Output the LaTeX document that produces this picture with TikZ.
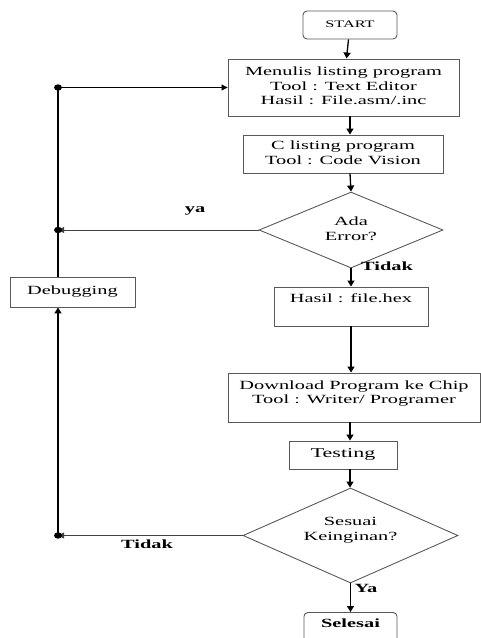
\documentclass[tikz,border=0pt]{standalone}
\usepackage{fontspec}
\setmainfont{Liberation Serif}
\usepackage{graphicx}
\usetikzlibrary{shapes.geometric,arrows.meta}
\newcommand{\wt}[2][12.5]{\scalebox{1.63}[1]{\fontsize{#1}{14.5}\selectfont\begin{tabular}{@{}c@{}}#2\end{tabular}}}
\newcommand{\wb}[2][12.5]{\scalebox{1.63}[1]{\fontsize{#1}{14.5}\selectfont\bfseries\begin{tabular}{@{}c@{}}#2\end{tabular}}}
\begin{document}
\begin{tikzpicture}[x=1pt,y=-1pt,
  box/.style={draw=black!65, line width=0.9pt, inner sep=0pt, fill=white},
  rbox/.style={box, rounded corners=4pt},
  dia/.style={diamond, draw=black!65, line width=0.9pt, inner sep=0pt, aspect=2.3},
  txt/.style={inner sep=0pt},
  arr/.style={line width=1.3pt, -{Triangle[length=6pt,width=7pt]}},
  thinarr/.style={draw=black!75, line width=0.8pt, -{Triangle[length=6pt,width=6pt]}},
  vline/.style={line width=1.4pt}
]
\useasboundingbox (0,0) rectangle (481,638);

% main column
\node[rbox, minimum width=94, minimum height=28] (start) at (350,25) {\wt[10]{START}};
\node[box, minimum width=231, minimum height=57] (menulis) at (343.5,87.5)
  {\wt{Menulis listing program\\Tool : Text Editor\\Hasil : File.asm/.inc}};
\node[box, minimum width=200, minimum height=38] (clist) at (343,154)
  {\wt{C listing program\\Tool : Code Vision}};
\node[dia, minimum width=184, minimum height=76] (ada) at (351,230) {};
\node[txt] (adatxt) at (351,230) {\wt{Ada\\Error?}};
\node[box, minimum width=154, minimum height=39] (hasil) at (351,306.5) {};
\node[txt] (hasiltxt) at (351,300) {\wt{Hasil : file.hex}};
\node[box, minimum width=252, minimum height=49] (download) at (354,397.5) {};
\node[txt] (downloadtxt) at (354,393.5) {\wt{Download Program ke Chip\\Tool : Writer/ Programer}};
\node[box, minimum width=108, minimum height=28] (testing) at (343,455) {\wt[13.5]{Testing}};
\node[dia, minimum width=215, minimum height=95] (sesuai) at (350.5,535.5) {};
\node[txt] (sesuaitxt) at (350.5,530) {\wt{Sesuai\\Keinginan?}};
\node[rbox, minimum width=93, minimum height=30, anchor=north] (selesai) at (350.5,612) {};
\node[txt] (selesaitxt) at (350.5,625) {\wb{Selesai}};

% left side
\node[box, minimum width=125, minimum height=30] (debug) at (72.5,292) {\wt{Debugging}};
\coordinate (j1) at (58,87.5);
\coordinate (j2) at (58,230);
\coordinate (j3) at (58,535.5);

% labels
\node[txt] (lya) at (195,210) {\wb{ya}};
\node[txt] (ltidak1) at (387,268) {\wb{Tidak}};
\node[txt] (ltidak2) at (147,546) {\wb{Tidak}};
\node[txt] (lYa) at (366,590) {\wb{Ya}};

% connectors main column
\draw[arr] (start) -- (menulis);
\draw[arr] (menulis.south -| 350,0) -- (clist.north -| 350,0);
\draw[arr] (clist.south -| 350,0) -- (ada.north);
\draw[arr] (ada.south) -- (hasil.north);
\draw[arr] (hasil.south) -- (download.north -| hasil.south);
\draw[arr] (download.south -| 350,0) -- (testing.north -| 350,0);
\draw[arr] (testing.south -| 350,0) -- (sesuai.north -| 350,0);
\draw[arr] (sesuai.south) -- (selesai.north);

% feedback loop
\draw[thinarr] (ada.west) -- (j2);
\draw[thinarr] (sesuai.west) -- (j3);
\draw[vline, -{Triangle[length=6pt,width=7pt]}] (j3) -- (j1 |- debug.south);
\draw[vline] (j1 |- debug.north) -- (j1);
\draw[line width=0.8pt, -{Triangle[length=6pt,width=6pt]}] (j1) -- (menulis.west);
\fill (j1) ellipse [x radius=4, y radius=3.2];
\fill (j2) ellipse [x radius=4, y radius=3.2];
\fill (j3) ellipse [x radius=4, y radius=3.2];
\end{tikzpicture}
\end{document}
